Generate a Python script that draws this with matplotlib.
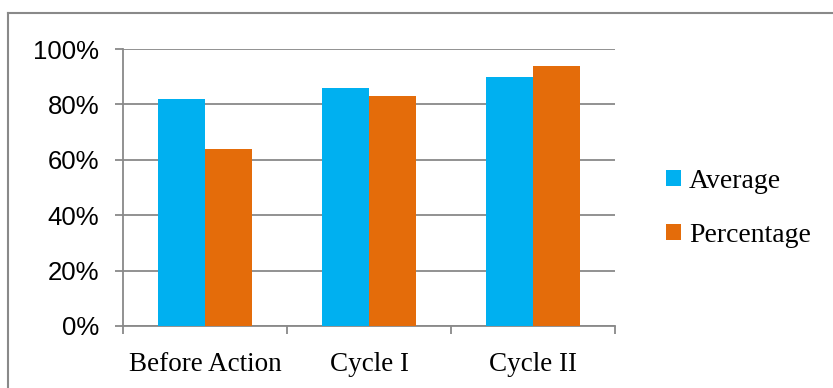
import matplotlib
matplotlib.use("Agg")
import matplotlib.pyplot as plt
from matplotlib.lines import Line2D
import numpy as np

categories = ["Before Action", "Cycle I", "Cycle II"]
average = [0.82, 0.86, 0.90]
percentage = [0.64, 0.83, 0.94]
series_names = ["Average", "Percentage"]
y_ticks = [0, 0.2, 0.4, 0.6, 0.8, 1.0]
y_labels = ["0%", "20%", "40%", "60%", "80%", "100%"]

blue = "#00B0F0"
orange = "#E46C0A"
grey = "#898989"

fig = plt.figure(figsize=(8.33, 3.88), dpi=100)
ax = fig.add_axes([0.1477, 0.1598, 0.5906, 0.7139])

x = np.arange(len(categories))
w = 0.287
ax.bar(x - w / 2, average, width=w, color=blue, label=series_names[0], zorder=3)
ax.bar(x + w / 2, percentage, width=w, color=orange, label=series_names[1], zorder=3)

ax.set_xlim(-0.5, len(categories) - 0.5)
ax.set_ylim(0, 1.0)

# horizontal grid
ax.set_yticks(y_ticks)
ax.set_yticklabels(y_labels, fontfamily="Liberation Sans", fontsize=18.5)
ax.yaxis.grid(True, color=grey, linewidth=1.3, zorder=0)
ax.tick_params(axis="y", length=6, width=1.3, color=grey, pad=11)

# categories: labels centred, ticks on the boundaries
ax.set_xticks(x)
ax.set_xticklabels(categories, fontfamily="Liberation Serif", fontsize=19.5)
ax.tick_params(axis="x", which="major", length=0, pad=19)
ax.set_xticks(np.arange(-0.5, len(categories), 1.0), minor=True)
ax.tick_params(axis="x", which="minor", length=6, width=1.3, color=grey)

for side in ["top", "right"]:
    ax.spines[side].set_visible(False)
for side in ["left", "bottom"]:
    ax.spines[side].set_color(grey)
    ax.spines[side].set_linewidth(1.3)

leg = ax.legend(loc="center left", bbox_to_anchor=(0.770, 0.463), bbox_transform=fig.transFigure,
                frameon=False, prop={"family": "Liberation Serif", "size": 20},
                handlelength=0.52, handleheight=0.52, handletextpad=0.3, labelspacing=1.05)

# outer chart frame (only top and left visible in the crop)
fig.add_artist(Line2D([0.0096, 0.0096], [0.0, 0.966], transform=fig.transFigure, color=grey, linewidth=1.5))
fig.add_artist(Line2D([0.0096, 1.0], [0.966, 0.966], transform=fig.transFigure, color=grey, linewidth=1.5))

fig.savefig("out.png", dpi=100)
